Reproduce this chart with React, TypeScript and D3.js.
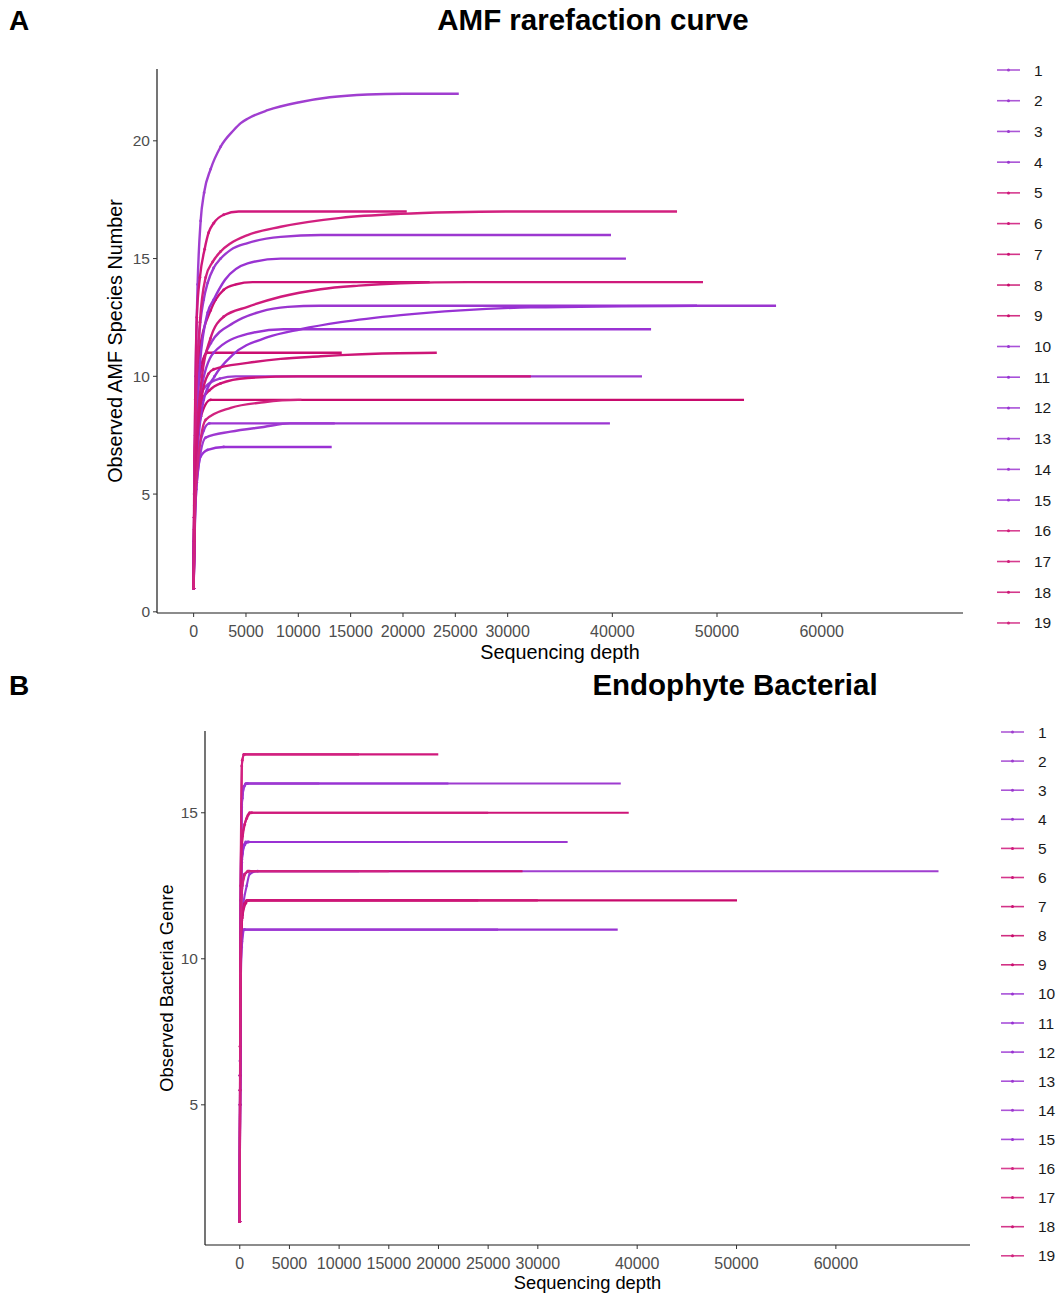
import React from 'react';
import * as d3 from 'd3';

// Sample ids shown in both legends
const samples: string[] = d3.range(1, 20).map(String);

// Per-sample line colours (orchid group and deep-pink group)
const sampleColors: string[] = [
  '#A03ED0', '#9E3BD0', '#9C38D0', '#9A35CF',
  '#D0187C', '#CE1478', '#CC1074', '#C80A6C', '#CB0E70',
  '#9933D2', '#9832D4', '#9A33D3', '#9C36D2', '#9E38D1', '#9A31D4',
  '#D2207F', '#CF1A7B', '#CD1677', '#D1237F',
];

// Depth axis ticks shared by both panels
const depthTicks: number[] = [0, 5000, 10000, 15000, 20000, 25000, 30000, 40000, 50000, 60000];
const amfYTicks: number[] = [0, 5, 10, 15, 20];
const bacYTicks: number[] = [5, 10, 15];

// AMF rarefaction curves: [sequencing depth, observed species] per sample
const amfCurves: [number, number][][] = [
  [[1, 1], [60, 5], [190, 10], [380, 13.9], [670, 16.6], [1000, 17.8], [1625, 18.8], [2580, 19.75], [3820, 20.45], [4500, 20.75], [5200, 20.95], [7070, 21.3], [10230, 21.65], [13000, 21.85], [16630, 21.97], [20000, 22], [25330, 22]],
  [[1, 1], [60, 4], [200, 7], [450, 8.6], [1000, 9.5], [2500, 9.9], [4000, 10], [42830, 10]],
  [[1, 1], [60, 4.5], [200, 8.5], [500, 11.5], [960, 13.25], [1340, 13.97], [1910, 14.6], [2580, 15.0], [3540, 15.37], [5160, 15.66], [8320, 15.92], [12140, 16], [39870, 16]],
  [[1, 1], [60, 4], [200, 7.5], [600, 10], [1625, 11.4], [3820, 12.27], [6400, 12.75], [8990, 12.95], [12000, 13], [55640, 13]],
  [[1, 1], [50, 5], [150, 9], [300, 12.5], [600, 14.2], [1050, 15.4], [1430, 16.1], [1910, 16.5], [2870, 16.86], [4300, 17], [20360, 17]],
  [[1, 1], [50, 3], [200, 6.5], [670, 8.9], [1500, 9.4], [2580, 9.7], [5160, 9.93], [9940, 10], [32220, 10]],
  [[1, 1], [50, 4], [200, 8], [600, 11.2], [1625, 12.8], [2100, 13.25], [2870, 13.67], [4000, 13.9], [5640, 14], [22560, 14]],
  [[1, 1], [50, 3.5], [200, 6.5], [700, 8.3], [1625, 9], [52580, 9]],
  [[1, 1], [50, 4], [150, 7.5], [350, 9.5], [700, 10.4], [1300, 11], [14150, 11]],
  [[1, 1], [60, 4], [200, 7.5], [600, 10.5], [1340, 12.7], [1910, 13.25], [3000, 14.1], [5160, 14.8], [8320, 15], [41300, 15]],
  [[1, 1], [60, 3], [250, 6], [960, 9], [2000, 10], [3700, 10.9], [7000, 11.65], [10230, 12], [14050, 12.3], [19790, 12.6], [25530, 12.8], [32220, 12.93], [48090, 13]],
  [[1, 1], [60, 4], [200, 7], [670, 9.3], [1910, 11], [5160, 11.8], [8600, 12], [43700, 12]],
  [[1, 1], [50, 3], [200, 5.8], [960, 7.7], [1500, 8], [39770, 8]],
  [[1, 1], [60, 2.5], [300, 5.5], [1150, 7.4], [3540, 7.65], [6690, 7.85], [9200, 8], [13480, 8]],
  [[1, 1], [50, 2.5], [250, 5.2], [670, 6.6], [1340, 6.88], [2870, 7], [13190, 7]],
  [[1, 1], [50, 4], [200, 8.5], [600, 12.3], [1150, 14.2], [1820, 14.86], [2580, 15.3], [3540, 15.65], [5160, 16], [8320, 16.35], [14050, 16.73], [19790, 16.9], [24570, 16.97], [29830, 17], [46180, 17]],
  [[1, 1], [60, 3.5], [250, 7], [800, 10], [1600, 11.6], [2870, 12.53], [5160, 12.95], [8320, 13.38], [12140, 13.7], [15770, 13.85], [19790, 13.95], [26200, 14], [48660, 14]],
  [[1, 1], [60, 3], [250, 6.5], [800, 9.2], [1400, 10.1], [1910, 10.3], [5160, 10.57], [8320, 10.74], [12140, 10.85], [14050, 10.9], [18000, 10.97], [23230, 11]],
  [[1, 1], [50, 2.5], [250, 5.5], [1150, 8.15], [3540, 8.66], [6690, 8.9], [10000, 9], [10300, 9]],
];

// Endophyte bacterial rarefaction curves: [sequencing depth, observed genera] per sample
const bacCurves: [number, number][][] = [
  [[1, 1], [30, 6], [80, 10], [200, 12.2], [500, 12.9], [1000, 13], [70330, 13]],
  [[1, 1], [30, 6.5], [80, 11], [200, 15.2], [400, 15.9], [700, 16], [38350, 16]],
  [[1, 1], [30, 6], [80, 10.5], [200, 13.4], [450, 13.9], [800, 14], [33000, 14]],
  [[1, 1], [30, 5], [80, 9], [250, 11.5], [700, 12.5], [1000, 12.9], [1800, 13], [12000, 13]],
  [[1, 1], [30, 7], [80, 12], [200, 16.6], [400, 17], [19980, 17]],
  [[1, 1], [30, 6], [80, 10.5], [200, 13.8], [500, 14.6], [1000, 15], [39150, 15]],
  [[1, 1], [30, 5.5], [80, 10], [200, 12.4], [500, 12.9], [900, 13], [28460, 13]],
  [[1, 1], [30, 5.5], [80, 9.5], [200, 11.3], [500, 11.9], [800, 12], [50050, 12]],
  [[1, 1], [30, 5], [80, 9], [250, 11.4], [600, 11.9], [900, 12], [24000, 12]],
  [[1, 1], [30, 5], [80, 9], [200, 10.6], [400, 11], [38040, 11]],
  [[1, 1], [30, 6], [80, 11], [200, 15.3], [450, 15.9], [800, 16], [21000, 16]],
  [[1, 1], [30, 6], [80, 10], [200, 13.3], [500, 13.9], [900, 14], [17000, 14]],
  [[1, 1], [30, 5], [80, 8.5], [200, 10.4], [500, 11], [26000, 11]],
  [[1, 1], [30, 6.5], [80, 11.5], [250, 15.5], [600, 16], [8000, 16]],
  [[1, 1], [30, 5.5], [80, 10], [250, 13.6], [600, 14], [6000, 14]],
  [[1, 1], [30, 7], [80, 12.5], [250, 16.8], [500, 17], [12000, 17]],
  [[1, 1], [30, 6], [80, 10], [250, 14.2], [700, 14.8], [1200, 15], [25000, 15]],
  [[1, 1], [30, 5], [80, 9], [250, 11.5], [700, 12], [30000, 12]],
  [[1, 1], [30, 5.5], [80, 9.5], [250, 12.5], [800, 13], [15000, 13]],
];

const FONT = '"Liberation Sans", Arial, Helvetica, sans-serif';

type PanelProps = {
  curves: [number, number][][];
  xRange: [number, number];
  yDomain: [number, number];
  yRange: [number, number];
  yTicks: number[];
  yTitle: string;
  yTitleX: number;
  xTitleY: number;
  titleSize: number;
  lineWidth: number;
  legendX: number;
  legendY0: number;
  legendStep: number;
};

function Panel(p: PanelProps) {
  const x = d3.scaleLinear().domain([-3500, 73500]).range(p.xRange);
  const y = d3.scaleLinear().domain(p.yDomain).range(p.yRange);
  const line = d3
    .line<[number, number]>()
    .x((d) => x(d[0]))
    .y((d) => y(d[1]))
    .curve(d3.curveMonotoneX);
  const [x0, x1] = p.xRange;
  const yBottom = p.yRange[0];
  const yTop = p.yRange[1];
  const axisColor = '#1a1a1a';
  const tickColor = '#333333';
  const labelColor = '#4D4D4D';
  return (
    <g>
      {/* curves */}
      {p.curves.map((c, i) => (
        <g key={i}>
          <path d={line(c) || ''} fill="none" stroke={sampleColors[i]} strokeWidth={p.lineWidth} strokeLinejoin="round" />
          {c
            .filter((d) => d[0] < 3000)
            .map((d, j) => (
              <circle key={j} cx={x(d[0])} cy={y(d[1])} r={1.4} fill={sampleColors[i]} />
            ))}
        </g>
      ))}
      {/* axes */}
      <line x1={x0} x2={x0} y1={yTop} y2={yBottom} stroke={axisColor} strokeWidth={1.2} />
      <line x1={x0} x2={x1} y1={yBottom} y2={yBottom} stroke={axisColor} strokeWidth={1.2} />
      {p.yTicks.map((t) => (
        <g key={'y' + t}>
          <line x1={x0 - 4} x2={x0} y1={y(t)} y2={y(t)} stroke={tickColor} strokeWidth={1} />
          <text x={x0 - 7} y={y(t) + 5.5} textAnchor="end" fontSize={15.5} fill={labelColor} fontFamily={FONT}>
            {t}
          </text>
        </g>
      ))}
      {depthTicks.map((t) => (
        <g key={'x' + t}>
          <line x1={x(t)} x2={x(t)} y1={yBottom} y2={yBottom + 4} stroke={tickColor} strokeWidth={1} />
          <text x={x(t)} y={yBottom + 24} textAnchor="middle" fontSize={16} fill={labelColor} fontFamily={FONT}>
            {t}
          </text>
        </g>
      ))}
      <text
        x={(x0 + x1) / 2}
        y={p.xTitleY}
        textAnchor="middle"
        fontSize={p.titleSize}
        fill="#000"
        fontFamily={FONT}
      >
        Sequencing depth
      </text>
      <text
        transform={`translate(${p.yTitleX},${(yTop + yBottom) / 2}) rotate(-90)`}
        textAnchor="middle"
        fontSize={p.titleSize}
        fill="#000"
        fontFamily={FONT}
      >
        {p.yTitle}
      </text>
      {/* legend */}
      {samples.map((s, i) => {
        const ly = p.legendY0 + i * p.legendStep;
        return (
          <g key={s}>
            <line x1={p.legendX} x2={p.legendX + 23} y1={ly} y2={ly} stroke={sampleColors[i]} strokeWidth={1.6} opacity={0.85} />
            <circle cx={p.legendX + 11.5} cy={ly} r={1.5} fill={sampleColors[i]} />
            <text x={p.legendX + 37} y={ly + 5.5} fontSize={15.5} fill="#1a1a1a" fontFamily={FONT}>
              {s}
            </text>
          </g>
        );
      })}
    </g>
  );
}

export default function App() {
  return (
    <svg
      width={1057}
      height={1295}
      viewBox="0 0 1057 1295"
      style={{ position: 'absolute', left: 0, top: 0, background: '#fff' }}
    >
      <rect width={1057} height={1295} fill="#fff" />
      <text x={9} y={30} fontSize={28} fontWeight="bold" fontFamily={FONT}>A</text>
      <text x={593} y={30} textAnchor="middle" fontSize={29.5} fontWeight="bold" fontFamily={FONT}>
        AMF rarefaction curve
      </text>
      <Panel
        curves={amfCurves}
        xRange={[157, 963]}
        yDomain={[-0.05, 23.05]}
        yRange={[613, 69]}
        yTicks={amfYTicks}
        yTitle="Observed AMF Species Number"
        yTitleX={122}
        xTitleY={659}
        titleSize={19.8}
        lineWidth={2.4}
        legendX={997}
        legendY0={70}
        legendStep={30.72}
      />
      <text x={9} y={695} fontSize={28} fontWeight="bold" fontFamily={FONT}>B</text>
      <text x={735} y={695} textAnchor="middle" fontSize={29.5} fontWeight="bold" fontFamily={FONT}>
        Endophyte Bacterial
      </text>
      <Panel
        curves={bacCurves}
        xRange={[205, 970]}
        yDomain={[0.2, 17.8]}
        yRange={[1245, 731]}
        yTicks={bacYTicks}
        yTitle="Observed Bacteria Genre"
        yTitleX={173}
        xTitleY={1289}
        titleSize={18.3}
        lineWidth={2.1}
        legendX={1001}
        legendY0={732}
        legendStep={29.1}
      />
    </svg>
  );
}
